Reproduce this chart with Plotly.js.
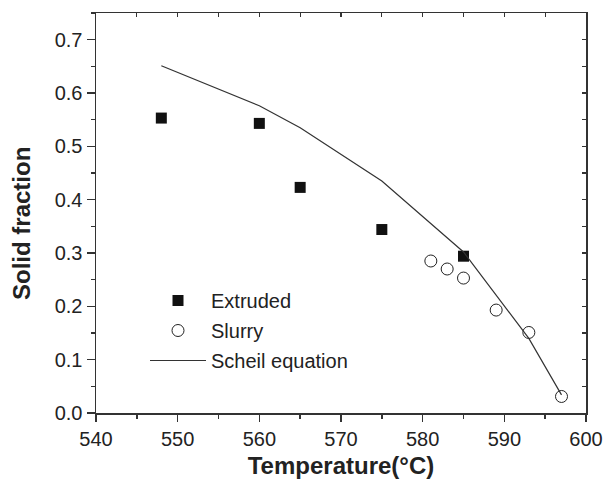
<!DOCTYPE html>
<html>
<head>
<meta charset="utf-8">
<script src="https://cdn.plot.ly/plotly-3.0.1.min.js"></script>
<style>html,body{margin:0;padding:0;background:#fff;}#chart{width:604px;height:489px;}</style>
</head>
<body>
<div id="chart"></div>
<script>
const extrudedT = [548, 560, 565, 575, 585];
const extrudedFs = [0.553, 0.543, 0.423, 0.344, 0.294];
const slurryT = [581, 583, 585, 589, 593, 597];
const slurryFs = [0.285, 0.270, 0.253, 0.193, 0.151, 0.031];
const scheilT = [548, 560, 565, 575, 585, 589, 593, 597];
const scheilFs = [0.651, 0.576, 0.535, 0.435, 0.302, 0.221, 0.140, 0.034];

const ink = '#222';
const font = {family: '"Liberation Sans", Arial, sans-serif', color: ink};

const traces = [
  {x: extrudedT, y: extrudedFs, name: 'Extruded', mode: 'markers', type: 'scatter',
   legendgroup: 'a',
   marker: {symbol: 'square', size: 11, color: '#111', line: {width: 0}}},
  {x: slurryT, y: slurryFs, name: 'Slurry', mode: 'markers', type: 'scatter',
   legendgroup: 'b',
   marker: {symbol: 'circle-open', size: 12, color: '#222', line: {width: 1}}},
  {x: scheilT, y: scheilFs, name: 'Scheil equation', mode: 'lines', type: 'scatter',
   legendgroup: 'c',
   line: {color: '#333', width: 1.2}},
  {x: [], y: [], xaxis: 'x2', yaxis: 'y2', showlegend: false, hoverinfo: 'skip', type: 'scatter', mode: 'markers'}
];

const layout = {
  width: 604, height: 489,
  margin: {l: 96, r: 18, t: 13, b: 76},
  paper_bgcolor: '#fff', plot_bgcolor: '#fff',
  font: Object.assign({size: 20}, font),
  showlegend: true,
  legend: {x: 0.10, y: 0.33, xanchor: 'left', yanchor: 'top', bgcolor: 'rgba(0,0,0,0)',
           font: Object.assign({size: 20}, font), traceorder: 'grouped', tracegroupgap: 1,
           itemwidth: 56},
  xaxis: {range: [540, 600], dtick: 10, tick0: 540, ticks: 'outside', ticklen: 7, tickwidth: 1.5,
          tickcolor: '#333', showline: true, linewidth: 1.5, linecolor: '#333',
          showgrid: false, zeroline: false,
          minor: {dtick: 5, tick0: 540, ticks: 'outside', ticklen: 4, tickwidth: 1.5, tickcolor: '#333', showgrid: false},
          tickfont: Object.assign({size: 20}, font),
          title: {text: 'Temperature(°C)', font: {family: font.family, size: 24, color: ink, weight: 'bold'}, standoff: 8}},
  yaxis: {range: [0, 0.75], dtick: 0.1, tick0: 0, tickformat: '.1f', ticks: 'outside', ticklen: 8, tickwidth: 1.5,
          tickcolor: '#333', showline: true, linewidth: 1.5, linecolor: '#333',
          showgrid: false, zeroline: false,
          minor: {dtick: 0.05, tick0: 0, ticks: 'outside', ticklen: 4, tickwidth: 1.5, tickcolor: '#333', showgrid: false},
          tickfont: Object.assign({size: 20}, font)},
  xaxis2: {overlaying: 'x', side: 'top', anchor: 'y', range: [540, 600], dtick: 5, tick0: 540,
           ticks: 'inside', ticklen: 4, tickwidth: 1.2, tickcolor: '#333', showticklabels: false,
           showline: true, linewidth: 1.5, linecolor: '#333', showgrid: false, zeroline: false},
  yaxis2: {overlaying: 'y', side: 'right', anchor: 'x', range: [0, 0.75], dtick: 0.05, tick0: 0,
           ticks: 'inside', ticklen: 4, tickwidth: 1.2, tickcolor: '#333', showticklabels: false,
           showline: true, linewidth: 1.5, linecolor: '#333', showgrid: false, zeroline: false},
  annotations: [
    {text: 'Solid fraction', xref: 'paper', yref: 'paper', x: -0.153, y: 0.4725,
     xanchor: 'center', yanchor: 'middle', textangle: -90, showarrow: false,
     font: {family: font.family, size: 24, color: ink, weight: 'bold'}}
  ]
};

Plotly.newPlot('chart', traces, layout, {staticPlot: true, displayModeBar: false});
</script>
</body>
</html>
